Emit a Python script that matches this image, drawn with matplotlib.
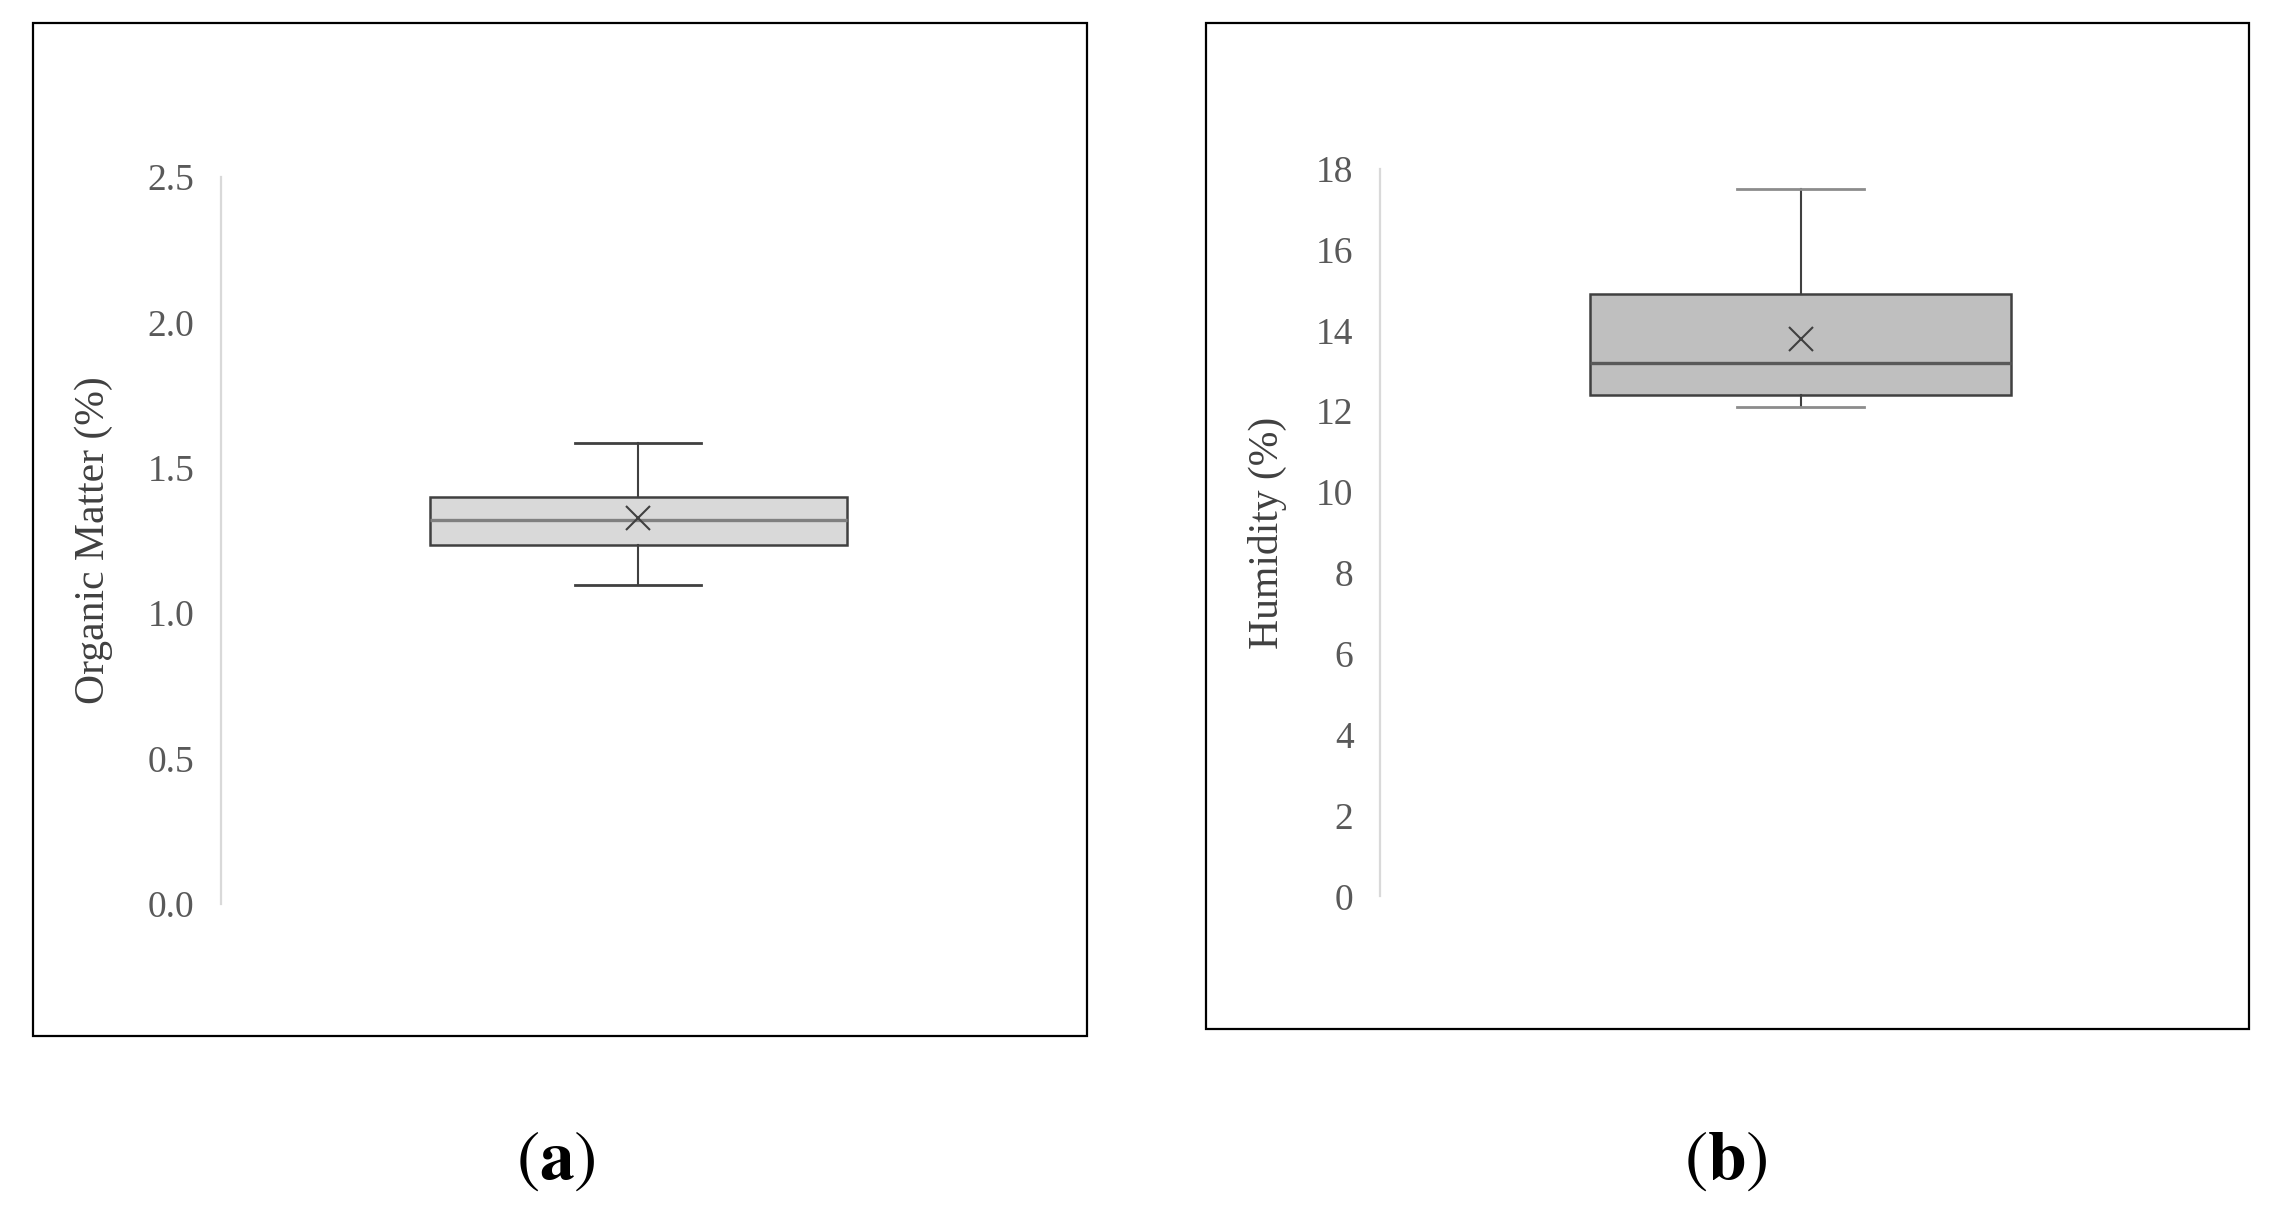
import matplotlib
matplotlib.use("Agg")
import matplotlib.pyplot as plt
from matplotlib.patches import Rectangle

# ---- data ----
om_stats = dict(whislo=1.095, q1=1.234, med=1.320, q3=1.400, whishi=1.586, mean=1.326)
hum_stats = dict(whislo=12.09, q1=12.40, med=13.18, q3=14.89, whishi=17.49, mean=13.78)
om_ticks = [0.0, 0.5, 1.0, 1.5, 2.0, 2.5]
om_ticklabels = ["0.0", "0.5", "1.0", "1.5", "2.0", "2.5"]
hum_ticks = [0, 2, 4, 6, 8, 10, 12, 14, 16, 18]
om_label = "Organic Matter (%)"
hum_label = "Humidity (%)"
panel_labels = ["a", "b"]

W, H = 2278, 1216
plt.rcParams['mathtext.fontset'] = 'stix'
fig = plt.figure(figsize=(W / 100, H / 100), dpi=100)

def px_axes(left, right, top, bottom):
    return fig.add_axes([left / W, 1 - bottom / H, (right - left) / W, (bottom - top) / H])

def frame(left, top, right, bottom):
    fig.patches.append(Rectangle((left / W, 1 - bottom / H), (right - left) / W, (bottom - top) / H,
                                 transform=fig.transFigure, fill=False, edgecolor="black", linewidth=1.6))

frame(33, 23, 1087, 1036)
frame(1206, 23, 2249, 1029)

font = "Liberation Serif"
tick_color = "#595959"

def style(ax, stats, ticks, ticklabels, ylim, label, labelx, fill, edge, medc, capc):
    st = dict(stats)
    st["label"] = ""
    st["fliers"] = []
    ax.bxp([st], positions=[1], widths=1.0, showmeans=True, patch_artist=True,
           boxprops=dict(facecolor=fill, edgecolor=edge, linewidth=1.8),
           medianprops=dict(color=medc, linewidth=2.4),
           whiskerprops=dict(color=edge, linewidth=1.5),
           capprops=dict(color=capc, linewidth=2.0),
           capwidths=0.3,
           meanprops=dict(marker="x", markersize=17, markeredgecolor="#404040", markeredgewidth=1.5))
    ax.set_xlim(0, 2)
    ax.set_ylim(*ylim)
    ax.set_yticks(ticks)
    ax.set_yticklabels(ticklabels, fontfamily=font, fontsize=27, color=tick_color)
    ax.set_xticks([])
    ax.tick_params(axis="y", length=0, pad=19)
    for s in ["top", "right", "bottom"]:
        ax.spines[s].set_visible(False)
    ax.spines["left"].set_color("#d9d9d9")
    ax.spines["left"].set_linewidth(1.6)
    ax.set_ylabel(label, fontfamily=font, fontsize=30, color="#404040")
    ax.yaxis.set_label_coords(labelx, 0.5)
    ax.patch.set_alpha(0)

ax1 = px_axes(221, 1055, 177, 903.6)
style(ax1, om_stats, om_ticks, om_ticklabels, (0, 2.5), om_label, -0.129,
      "#d9d9d9", "#404040", "#808080", "#404040")

ax2 = px_axes(1380, 2221, 168.5, 896.4)
style(ax2, hum_stats, hum_ticks, [str(t) for t in hum_ticks], (0, 18), hum_label, -0.111,
      "#bfbfbf", "#404040", "#595959", "#8c8c8c")

for x, lab in zip([556, 1726], panel_labels):
    fig.text(x / W, 1 - 1162 / H, "(" + r"$\mathbf{" + lab + "}$" + ")",
             ha="center", va="center", fontsize=50, fontfamily="STIXGeneral")

fig.savefig("out.png", dpi=100)
